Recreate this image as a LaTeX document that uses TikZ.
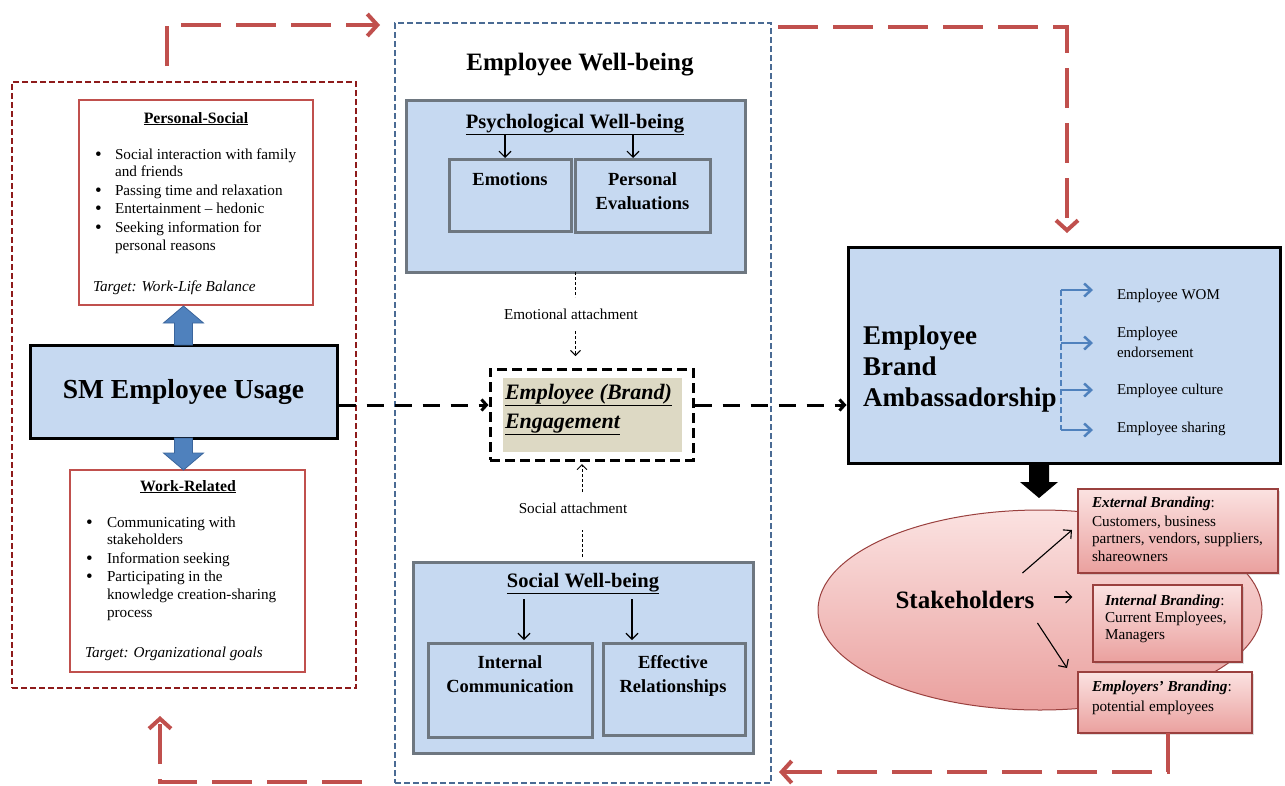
\documentclass[tikz,border=0pt]{standalone}
\usepackage{fontspec}
\setmainfont{Liberation Serif}
\usetikzlibrary{arrows.meta,shapes.geometric,shadows,calc}
\definecolor{cred}{HTML}{C0504D}
\definecolor{darkred}{HTML}{8E1B1B}
\definecolor{blueedge}{HTML}{4A6B94}
\definecolor{grayedge}{HTML}{6E7780}
\definecolor{boxblue}{HTML}{C6D9F1}
\definecolor{tanfill}{HTML}{DDD9C4}
\definecolor{pinkL}{HTML}{FBE2E1}
\definecolor{pinkD}{HTML}{EAA09E}
\definecolor{arrowblue}{HTML}{4F81BD}
\definecolor{arrowblueD}{HTML}{3A659C}
\newcommand\fs[2]{\fontsize{#1}{#2}\selectfont}
\begin{document}
\begin{tikzpicture}[x=1pt,y=-1pt,
  every node/.style={inner sep=0pt,outer sep=0pt},
  redbox/.style={draw=cred,line width=2pt,fill=white},
  bluebox/.style={draw=black,line width=3pt,fill=boxblue},
  graybox/.style={draw=grayedge,line width=3pt,fill=boxblue},
  pinkbox/.style={draw=cred!80!black,line width=1.2pt,top color=pinkL,bottom color=pinkD,
     drop shadow={shadow xshift=2pt,shadow yshift=-2pt,opacity=0.25}},
  txt/.style={anchor=base west,font=\fs{15.2}{18}},
  bul/.style={anchor=base west,font=\fs{19}{18}},
  ctxt/.style={anchor=base,font=\fs{18.5}{21}\bfseries},
  smalltxt/.style={anchor=base west,font=\fs{15}{17}},
  pinktxt/.style={anchor=base west,font=\fs{15.2}{18}},
  redarr/.style={draw=cred,line width=4pt,dash pattern=on 40pt off 15pt,
     -{Straight Barb[length=10pt,width=22pt,line width=4pt]}},
  blkarr/.style={draw=black,line width=3pt,dash pattern=on 17pt off 11pt,
     -{Straight Barb[length=5pt,width=11pt,line width=3pt]}},
  thindash/.style={draw=black,line width=0.9pt,dash pattern=on 3pt off 2pt},
  thinarr/.style={draw=black,line width=1.1pt,-{Straight Barb[length=6pt,width=12pt]}},
  bluedash/.style={draw=arrowblue,line width=2.5pt,dash pattern=on 6pt off 3pt},
  bluearr/.style={draw=arrowblue,line width=2.5pt,-{Straight Barb[length=7pt,width=13pt,line width=2.5pt]}},
  blockarr/.style={fill=arrowblue,draw=arrowblueD,line width=0.8pt},
]
\useasboundingbox (0,0) rectangle (1285,785);

% ---------------- Left group ----------------
\node[draw=darkred,line width=1.6pt,dash pattern=on 6pt off 3pt,minimum width=344pt,minimum height=606pt] (leftgrp) at (184,385) {};

\node[redbox,minimum width=234pt,minimum height=205pt] (ps) at (196,202.5) {};
\node[anchor=base,font=\fs{15.8}{18}\bfseries] (pst) at (196,123) {\underline{Personal-Social}};
\node[bul] (psb1) at (95,160) {\textbullet};
\node[txt] (ps1) at (115,159) {Social interaction with family};
\node[txt] (ps2) at (115,176) {and friends};
\node[bul] (psb2) at (95,196) {\textbullet};
\node[txt] (ps3) at (115,195) {Passing time and relaxation};
\node[bul] (psb3) at (95,214) {\textbullet};
\node[txt] (ps4) at (115,213) {Entertainment \textendash\ hedonic};
\node[bul] (psb4) at (95,233) {\textbullet};
\node[txt] (ps5) at (115,232) {Seeking information for};
\node[txt] (ps6) at (115,250) {personal reasons};
\node[txt,font=\fs{15.2}{18}\itshape] (pstg) at (93,291) {Target: Work-Life Balance};

\node[bluebox,minimum width=307pt,minimum height=93pt,font=\fs{27.5}{31}\bfseries] (sm) at (183.5,391.5) {SM Employee Usage};

\node[redbox,minimum width=235pt,minimum height=202pt] (wr) at (187.5,571) {};
\node[anchor=base,font=\fs{15.8}{18}\bfseries] (wrt) at (188,491) {\underline{Work-Related}};
\node[bul] (wrb1) at (86,528) {\textbullet};
\node[txt] (wr1) at (107,527) {Communicating with};
\node[txt] (wr2) at (107,544) {stakeholders};
\node[bul] (wrb2) at (86,564) {\textbullet};
\node[txt] (wr3) at (107,563) {Information seeking};
\node[bul] (wrb3) at (86,582) {\textbullet};
\node[txt] (wr4) at (107,581) {Participating in the};
\node[txt] (wr5) at (107,599) {knowledge creation-sharing};
\node[txt] (wr6) at (107,617) {process};
\node[txt,font=\fs{15.2}{18}\itshape] (wrtg) at (85,657) {Target: Organizational goals};

% blue block arrows
\draw[blockarr] ([xshift=-9pt]sm.north) -- ++(0,-22) -- ++(-11,0) -- ++(20,-17) -- ++(20,17) -- ++(-11,0) -- ++(0,22) -- cycle;
\draw[blockarr] ([xshift=-9pt]sm.south) -- ++(0,15) -- ++(-11,0) -- ++(20,17) -- ++(20,-17) -- ++(-11,0) -- ++(0,-15) -- cycle;

% ---------------- Centre group ----------------
\node[draw=blueedge,line width=1.3pt,dash pattern=on 6pt off 3pt,minimum width=376pt,minimum height=760pt] (wb) at (583,403) {};
\node[anchor=base,font=\fs{25}{28}\bfseries] (wbt) at (580,70) {Employee Well-being};

\node[graybox,minimum width=339pt,minimum height=172pt] (psy) at (575.5,186) {};
\node[anchor=base,font=\fs{20.5}{23}\bfseries] (psyt) at (575,128) {\underline{Psychological Well-being}};
\node[graybox,minimum width=122pt,minimum height=72pt] (emo) at (510,195) {};
\node[ctxt] (emot) at (510,185) {Emotions};
\node[graybox,minimum width=135pt,minimum height=73pt] (pe) at (642.5,195.5) {};
\node[ctxt] (pet1) at (642.5,185) {Personal};
\node[ctxt] (pet2) at (642.5,209) {Evaluations};
\draw[thinarr] ($(emo.north)+(-5,-24)$) -- ($(emo.north)+(-5,-1)$);
\draw[thinarr] ($(pe.north)+(-9.5,-24)$) -- ($(pe.north)+(-9.5,-1)$);

\node[anchor=base,font=\fs{15.2}{18}] (ea) at (571,319) {Emotional attachment};
\draw[thindash] (psy.south) -- ++(0,25);

\node[draw=black,line width=3pt,dash pattern=on 10pt off 5pt,minimum width=203pt,minimum height=91pt] (eng) at (591.5,414.5) {};
\fill[tanfill] (503,378) rectangle (682,452);
\node[anchor=base west,font=\fs{22}{25}\bfseries\itshape] (engt1) at (505,399) {\underline{Employee (Brand)}};
\node[anchor=base west,font=\fs{22}{25}\bfseries\itshape] (engt2) at (505,428) {\underline{Engagement}};
\draw[thindash,-{Straight Barb[length=5pt,width=10pt,line width=0.9pt]}] ($(psy.south |- ea.south)+(0,12)$) -- ($(psy.south |- eng.north)+(0,-13)$);

\node[graybox,minimum width=340pt,minimum height=191pt] (soc) at (583,657.5) {};
\node[anchor=base,font=\fs{20.5}{23}\bfseries] (soct) at (583,587) {\underline{Social Well-being}};
\node[graybox,minimum width=164pt,minimum height=94pt] (ic) at (510,690) {};
\node[ctxt] (ict1) at (510,668) {Internal};
\node[ctxt] (ict2) at (510,692) {Communication};
\node[graybox,minimum width=142pt,minimum height=92pt] (er) at (674,689) {};
\node[ctxt] (ert1) at (673,668) {Effective};
\node[ctxt] (ert2) at (673,692) {Relationships};
\draw[thinarr] ($(ic.north)+(14,-44)$) -- ($(ic.north)+(14,-3)$);
\draw[thinarr] ($(er.north)+(-42,-44)$) -- ($(er.north)+(-42,-3)$);

\node[anchor=base,font=\fs{15.2}{18}] (sa) at (573,513) {Social attachment};
\draw[thindash] ($(soc.north)+(-1,-5)$) -- ($(soc.north)+(-1,-32)$);
\draw[thindash,-{Straight Barb[length=5pt,width=10pt,line width=0.9pt]}] ($(soc.north)+(-1,-70)$) -- ($(soc.north |- eng.south)+(-1,4)$);

% ---------------- Right side ----------------
\node[bluebox,minimum width=432pt,minimum height=216pt] (amb) at (1064,355) {};
\node[anchor=base west,font=\fs{27}{31}\bfseries] (ambt1) at (863,344) {Employee};
\node[anchor=base west,font=\fs{27}{31}\bfseries] (ambt2) at (863,375) {Brand};
\node[anchor=base west,font=\fs{27}{31}\bfseries] (ambt3) at (863,406) {Ambassadorship};

\coordinate (b1) at (1061,290);
\coordinate (b2) at (1061,343);
\coordinate (b3) at (1061,390);
\coordinate (b4) at (1061,430);
\draw[bluedash] (b1) -- (b4);
\draw[bluearr] (b1) -- ++(32,0);
\draw[bluearr] (b2) -- ++(32,0);
\draw[bluearr] (b3) -- ++(32,0);
\draw[bluearr] (b4) -- ++(32,0);
\node[smalltxt] (o1) at (1117,299) {Employee WOM};
\node[smalltxt] (o2) at (1117,337) {Employee};
\node[smalltxt] (o3) at (1117,357) {endorsement};
\node[smalltxt] (o4) at (1117,394) {Employee culture};
\node[smalltxt] (o5) at (1117,432) {Employee sharing};

% black block arrow
\fill[black] ([xshift=-35pt]amb.south) -- ++(0,19) -- ++(-9,0) -- ++(19,16) -- ++(19,-16) -- ++(-9,0) -- ++(0,-19) -- cycle;

% stakeholders
\node[ellipse,draw=cred!80!black,line width=1pt,top color=pinkL,bottom color=pinkD,minimum width=444pt,minimum height=200pt] (stk) at (1040,610) {};
\node[font=\fs{25}{28}\bfseries] (stt) at (965,600) {Stakeholders};

\node[pinkbox,minimum width=200pt,minimum height=84pt] (ext) at (1178,531) {};
\node[pinktxt] (ex1) at (1092,507) {\textbf{\textit{External Branding}}:};
\node[pinktxt] (ex2) at (1092,526) {Customers, business};
\node[pinktxt] (ex3) at (1092,543) {partners, vendors, suppliers,};
\node[pinktxt] (ex4) at (1092,561) {shareowners};

\node[pinkbox,minimum width=149pt,minimum height=77pt] (int) at (1167.5,623.5) {};
\node[pinktxt] (in1) at (1105,605) {\textbf{\textit{Internal Branding}}:};
\node[pinktxt] (in2) at (1105,622) {Current Employees,};
\node[pinktxt] (in3) at (1105,639) {Managers};

\node[pinkbox,minimum width=174pt,minimum height=61pt] (emp) at (1165,702.5) {};
\node[pinktxt] (em1) at (1092,691) {\textbf{\textit{Employers’ Branding}}:};
\node[pinktxt] (em2) at (1092,711) {potential employees};

\draw[thinarr] ($(stt.east)+(-12,-27)$) -- ($(ext.west)+(-6,-1)$);
\draw[thinarr] ($(stt.east)+(20,-3)$) -- ++(18,0);
\draw[thinarr] ($(stt.east)+(3,23)$) -- ($(emp.north west)+(-11,-4)$);

% ---------------- dashed connectors ----------------
\draw[blkarr] ($(sm.east)+(1.5,13.5)$) -- ($(eng.west)+(-1.5,-9.5)$);
\draw[blkarr] ($(eng.east)+(1.5,-9.5)$) -- ($(amb.west)+(-1.5,50)$);

\coordinate (r1s) at (167,66);
\coordinate (r1e) at (380,25);
\draw[redarr] (r1s) |- (r1e);
\coordinate (r2s) at (778,27);
\coordinate (r2e) at (1067,233);
\draw[redarr] (r2s) -| (r2e);
\coordinate (r3e) at (779,772);
\draw[redarr] ([xshift=3pt]emp.south) |- (r3e);
\coordinate (r4s) at (362,782);
\coordinate (r4e) at (160,716);
\draw[redarr] (r4s) -| (r4e);
\end{tikzpicture}
\end{document}
